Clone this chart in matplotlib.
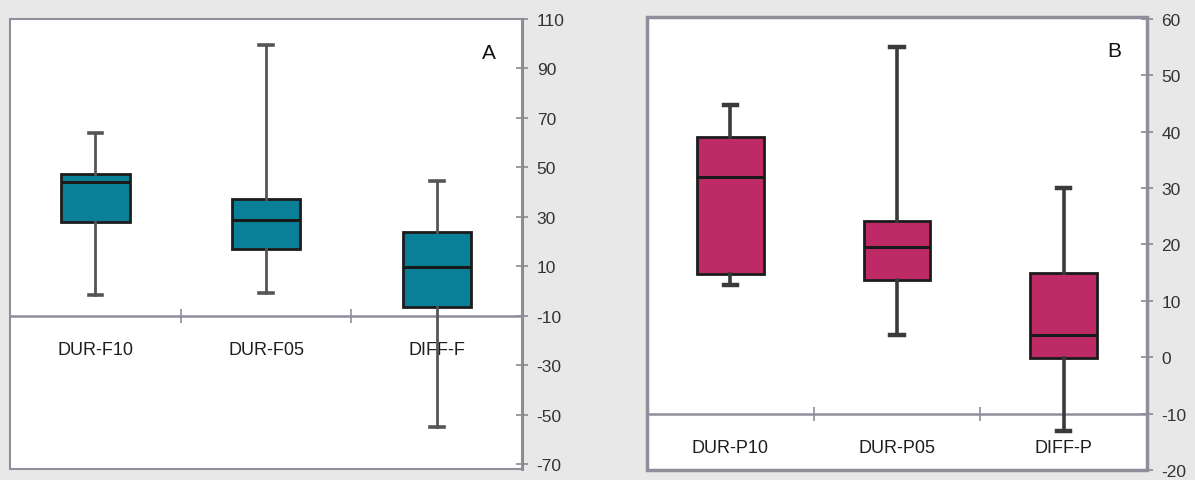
# Box plots A (F) and B (P), right-hand y axes

import matplotlib
matplotlib.use('Agg')
import matplotlib.pyplot as plt
from matplotlib.patches import Rectangle

plt.rcParams['font.family'] = ['Liberation Sans', 'DejaVu Sans']
plt.rcParams['axes.unicode_minus'] = False

# panel A
cats_a = ['DUR-F10', 'DUR-F05', 'DIFF-F']
whislo_a = [-1.5, -1, -55]
q1_a = [28, 17, -6.5]
med_a = [44, 28.5, 9.5]
q3_a = [47.5, 37, 24]
whishi_a = [64, 99.5, 44.5]
ticks_a = [110, 90, 70, 50, 30, 10, -10, -30, -50, -70]

# panel B
cats_b = ['DUR-P10', 'DUR-P05', 'DIFF-P']
whislo_b = [12.8, 4, -13]
q1_b = [14.7, 13.7, -0.2]
med_b = [31.9, 19.5, 4]
q3_b = [39, 24.2, 15]
whishi_b = [44.7, 55, 30]
ticks_b = [60, 50, 40, 30, 20, 10, 0, -10, -20]

bg = '#e8e8e9'
fig = plt.figure(figsize=(11.95, 4.81), dpi=100, facecolor=bg)


def panel(rect, cats, lo, q1, med, q3, hi, ticks, ylim, color, wcolor, wlw, letter, frame_lw):
    ax = fig.add_axes(rect)
    ax.set_facecolor('white')
    stats = []
    for i in range(len(cats)):
        stats.append({'whislo': lo[i], 'q1': q1[i], 'med': med[i],
                      'q3': q3[i], 'whishi': hi[i], 'fliers': []})
    pos = list(range(len(cats)))
    ax.bxp(stats, positions=pos, widths=0.4, capwidths=0.08, patch_artist=True,
           showfliers=False, zorder=3,
           boxprops=dict(facecolor=color, edgecolor='#1c1c1c', linewidth=2),
           medianprops=dict(color='#1a1a1a', linewidth=2.2),
           whiskerprops=dict(color=wcolor, linewidth=wlw),
           capprops=dict(color=wcolor, linewidth=wlw + 0.6))
    ax.set_xlim(-0.5, len(cats) - 0.5)
    ax.set_ylim(*ylim)

    # y axis on the right
    for s in ['left', 'top']:
        ax.spines[s].set_visible(False)
    ax.spines['right'].set_color('#7c7c84')
    ax.spines['right'].set_linewidth(2)
    ax.yaxis.tick_right()
    ax.set_yticks(ticks)
    ax.tick_params(axis='y', direction='inout', length=9, width=1.2, colors='#8a8a8a',
                   labelcolor='#333333', labelsize=12.5, pad=6)

    # x axis line at -10
    ax.spines['bottom'].set_position(('data', -10))
    ax.spines['bottom'].set_color('#8e8e9c')
    ax.spines['bottom'].set_linewidth(1.8)
    ax.set_xticks(pos)
    ax.set_xticklabels(cats)
    ax.set_xticks([p + 0.5 for p in pos[:-1]], minor=True)
    ax.tick_params(axis='x', which='major', length=0, pad=18, labelsize=13,
                   labelcolor='#1e1e1e')
    ax.tick_params(axis='x', which='minor', direction='inout', length=10, width=1.2,
                   colors='#8e8e9c')

    # outer frame
    ax.add_patch(Rectangle((0, 0), 1, 1, transform=ax.transAxes, fill=False,
                           edgecolor='#8f8e9a', linewidth=frame_lw, clip_on=False, zorder=5))
    ax.text(0.935, 0.925, letter, transform=ax.transAxes, ha='center', va='center',
            fontsize=15, color='#111111')
    return ax


panel([0.0084, 0.0229, 0.4285, 0.9356], cats_a, whislo_a, q1_a, med_a, q3_a, whishi_a,
      ticks_a, (-72, 110), '#0a7f98', '#555555', 2.0, 'A', 1.5)
panel([0.5414, 0.0208, 0.4184, 0.9418], cats_b, whislo_b, q1_b, med_b, q3_b, whishi_b,
      ticks_b, (-20, 60.3), '#be2a66', '#3a3a3a', 2.6, 'B', 2.5)

fig.savefig('out.png', dpi=100, facecolor=bg)
